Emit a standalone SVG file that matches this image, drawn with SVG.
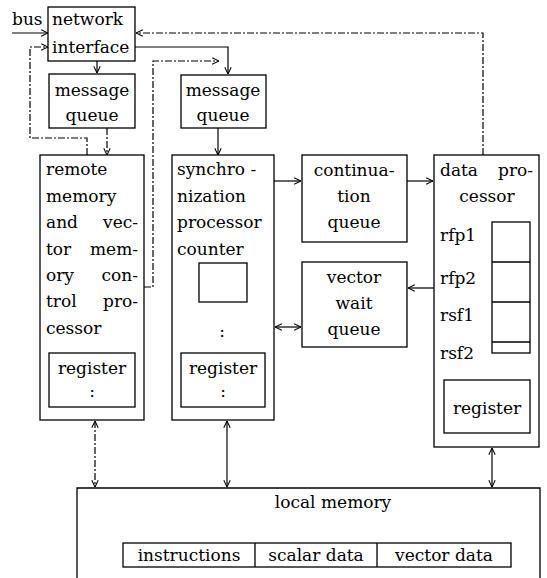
<svg xmlns="http://www.w3.org/2000/svg" width="547" height="578" viewBox="0 0 547 578">
<style>
.b{fill:none;stroke:#000;stroke-width:1.3}
.t{font-family:"DejaVu Serif","Liberation Serif",serif;font-size:17px;fill:#000}
.c{text-anchor:middle}
.w{fill:none;stroke:#000;stroke-width:1.2}
.d{stroke-dasharray:7,2,2,2}
</style>
<defs>
<marker id="a" viewBox="0 0 10 10" refX="9.5" refY="5" markerWidth="8" markerHeight="8" markerUnits="userSpaceOnUse" orient="auto-start-reverse">
<path d="M1,1 L9.5,5 L1,9" fill="none" stroke="#000" stroke-width="1.3"/>
</marker>
</defs>
<rect width="547" height="578" fill="#fff"/>
<g id="bus"><text class="t" x="12" y="25">bus</text></g>
<g id="network-interface">
<rect class="b" x="48" y="7" width="87" height="54"/>
<text class="t" x="52" y="25">network</text>
<text class="t" x="52" y="53">interface</text>
</g>
<g id="message-queue-1">
<rect class="b" x="49" y="74" width="86" height="54"/>
<text class="t c" x="92" y="96">message</text>
<text class="t c" x="92" y="121">queue</text>
</g>
<g id="message-queue-2">
<rect class="b" x="181" y="75" width="85" height="53"/>
<text class="t c" x="223" y="96">message</text>
<text class="t c" x="223" y="121">queue</text>
</g>
<g id="remote-memory">
<rect class="b" x="40" y="155" width="104" height="265"/>
<text class="t" x="46" y="175">remote</text>
<text class="t" x="46" y="202">memory</text>
<text class="t" y="228"><tspan x="46">and</tspan><tspan x="138" text-anchor="end">vec-</tspan></text>
<text class="t" y="255"><tspan x="46">tor</tspan><tspan x="138" text-anchor="end">mem-</tspan></text>
<text class="t" y="281"><tspan x="46">ory</tspan><tspan x="138" text-anchor="end">con-</tspan></text>
<text class="t" y="307"><tspan x="46">trol</tspan><tspan x="138" text-anchor="end">pro-</tspan></text>
<text class="t" x="46" y="334">cessor</text>
<rect class="b" x="49" y="353" width="86" height="54"/>
<text class="t c" x="92" y="374">register</text>
<text class="t c" x="92" y="397">:</text>
</g>
<g id="synchronization-processor">
<rect class="b" x="172" y="155" width="102" height="265"/>
<text class="t" x="177" y="175">synchro -</text>
<text class="t" x="177" y="202">nization</text>
<text class="t" x="177" y="228">processor</text>
<text class="t" x="177" y="255">counter</text>
<rect class="b" x="199" y="263" width="48" height="39"/>
<text class="t c" x="222" y="337">:</text>
<rect class="b" x="181" y="353" width="84" height="54"/>
<text class="t c" x="223" y="374">register</text>
<text class="t c" x="223" y="397">:</text>
</g>
<g id="continuation-queue">
<rect class="b" x="302" y="155" width="105" height="87"/>
<text class="t c" x="354" y="176">continua-</text>
<text class="t c" x="354" y="202">tion</text>
<text class="t c" x="354" y="228">queue</text>
</g>
<g id="vector-wait-queue">
<rect class="b" x="302" y="262" width="105" height="85"/>
<text class="t c" x="354" y="283">vector</text>
<text class="t c" x="354" y="309">wait</text>
<text class="t c" x="354" y="335">queue</text>
</g>
<g id="data-processor">
<rect class="b" x="434" y="155" width="105" height="292"/>
<text class="t" y="176"><tspan x="440">data</tspan><tspan x="533" text-anchor="end">pro-</tspan></text>
<text class="t c" x="487" y="202">cessor</text>
<text class="t" x="440" y="241">rfp1</text>
<text class="t" x="440" y="284">rfp2</text>
<text class="t" x="440" y="321">rsf1</text>
<text class="t" x="440" y="359">rsf2</text>
<rect class="b" x="492" y="222" width="38" height="131"/>
<line class="b" x1="492" y1="262" x2="530" y2="262"/>
<line class="b" x1="492" y1="302" x2="530" y2="302"/>
<line class="b" x1="492" y1="342" x2="530" y2="342"/>
<rect class="b" x="444" y="380" width="86" height="53"/>
<text class="t c" x="487" y="414">register</text>
</g>
<g id="local-memory">
<path class="b" d="M77,578 V488 H540 V578"/>
<text class="t c" x="333" y="508">local memory</text>
<rect class="b" x="123" y="543" width="388" height="24"/>
<line class="b" x1="255" y1="543" x2="255" y2="567"/>
<line class="b" x1="377" y1="543" x2="377" y2="567"/>
<text class="t c" x="189" y="561">instructions</text>
<text class="t c" x="316" y="561">scalar data</text>
<text class="t c" x="444" y="561">vector data</text>
</g>
<g id="connectors">
<path class="w" d="M12,33 H48" marker-end="url(#a)"/>
<path class="w d" d="M483,155 V33 H136" marker-end="url(#a)"/>
<path class="w d" d="M87,155 V138 H30 V47 H48" marker-end="url(#a)"/>
<path class="w" d="M97,61 V73" marker-end="url(#a)"/>
<path class="w" d="M135,47 H228 V74" marker-end="url(#a)"/>
<path class="w d" d="M144,287 H153 V61 H219" marker-end="url(#a)"/>
<path class="w d" d="M107,128 V155" marker-end="url(#a)"/>
<path class="w" d="M218,128 V155" marker-end="url(#a)"/>
<path class="w" d="M274,181 H301" marker-end="url(#a)"/>
<path class="w" d="M407,181 H433" marker-end="url(#a)"/>
<path class="w" d="M434,288 H408" marker-end="url(#a)"/>
<path class="w" d="M275,327 H301" marker-start="url(#a)" marker-end="url(#a)"/>
<path class="w d" d="M95,421 V487" marker-start="url(#a)" marker-end="url(#a)"/>
<path class="w" d="M227,421 V487" marker-start="url(#a)" marker-end="url(#a)"/>
<path class="w" d="M492,448 V487" marker-start="url(#a)" marker-end="url(#a)"/>
</g>
</svg>
